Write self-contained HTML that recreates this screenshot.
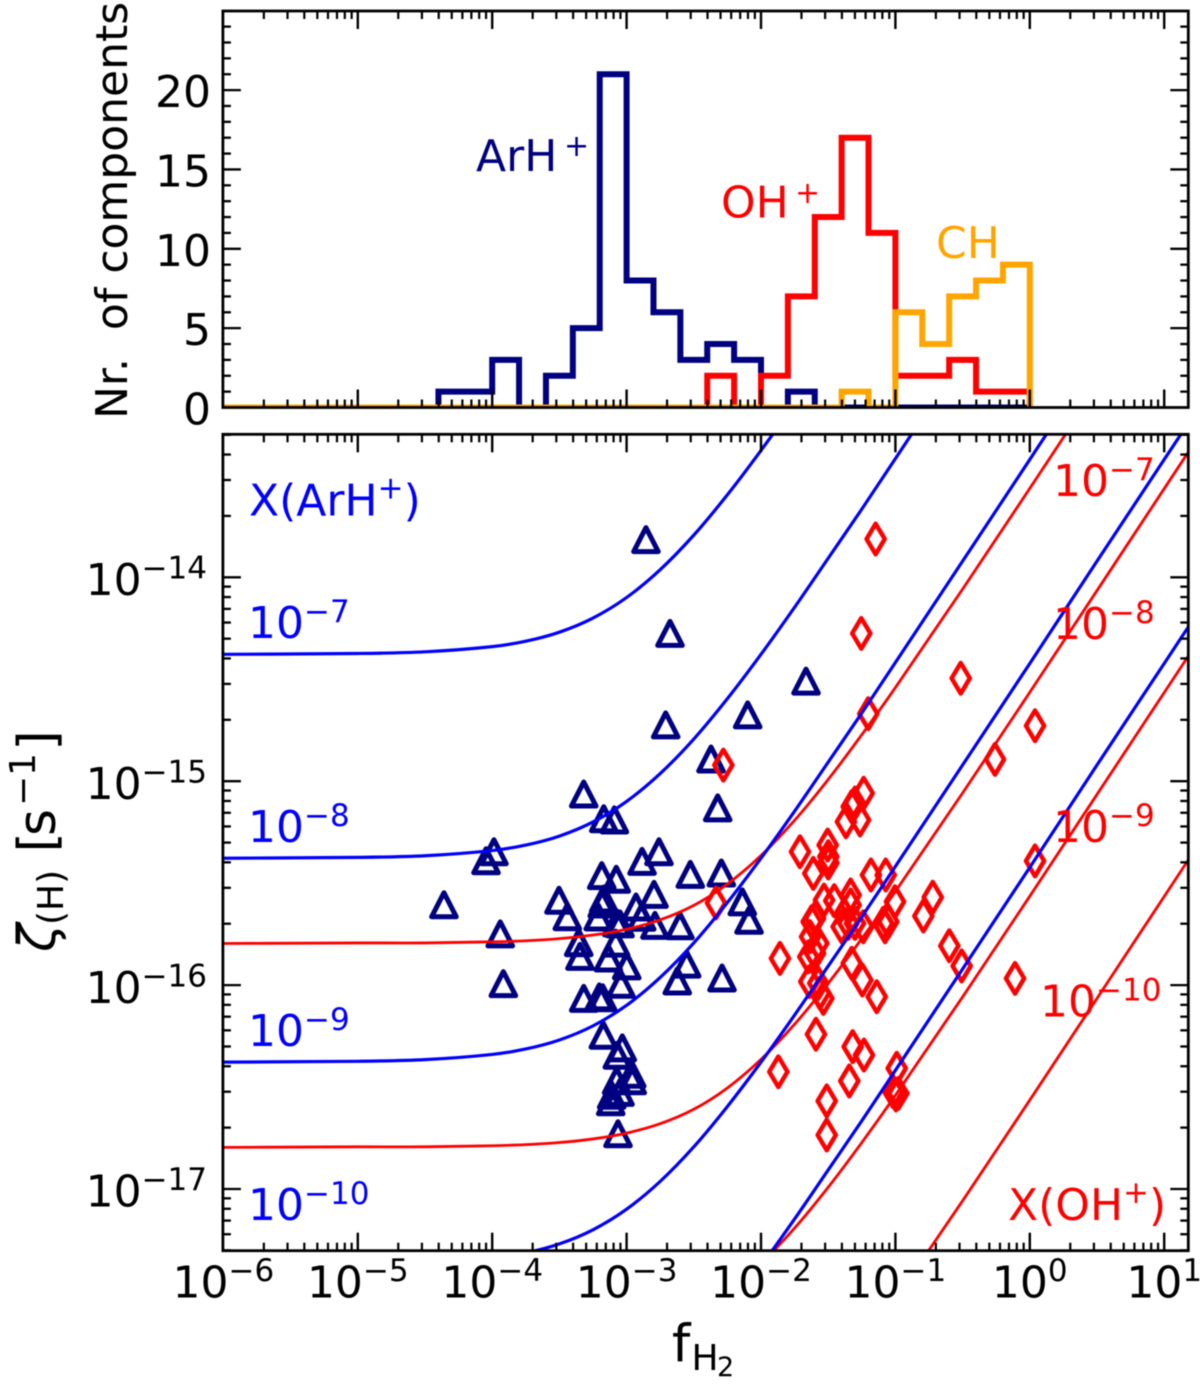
<!DOCTYPE html>
<html lang="en">
<head>
<meta charset="utf-8">
<title>Cosmic-ray ionization rate versus molecular fraction</title>
<style>
  html, body { margin: 0; padding: 0; background: #ffffff; width: 1200px; height: 1385px; overflow: hidden; }
  svg { display: block; font-family: "DejaVu Sans", "Liberation Sans", sans-serif; filter: blur(0.4px); }
</style>
</head>
<body>
<svg id="figure" xmlns="http://www.w3.org/2000/svg" width="1200" height="1385" viewBox="0 0 1200 1385">
  <defs>
    <clipPath id="clip-top"><rect x="222.9" y="11" width="965.4" height="396.5"/></clipPath>
    <clipPath id="clip-bottom"><rect x="222.9" y="434.3" width="965.4" height="816.4"/></clipPath>
  </defs>
  <rect x="0" y="0" width="1200" height="1385" fill="#ffffff"/>
  <g id="hist-layer" clip-path="url(#clip-top)"></g>
  <g id="arh-layer" clip-path="url(#clip-bottom)"></g>
  <g id="oh-layer" clip-path="url(#clip-bottom)"></g>
  <g id="red-curve-layer" clip-path="url(#clip-bottom)"></g>
  <g id="blue-curve-layer" clip-path="url(#clip-bottom)"></g>
  <g id="tick-layer"></g>
  <rect x="222.9" y="11" width="965.4" height="396.5" fill="none" stroke="#000" stroke-width="2.8"/>
  <rect x="222.9" y="434.3" width="965.4" height="816.4" fill="none" stroke="#000" stroke-width="2.8"/>
  <g id="tick-label-layer"></g>

  <g font-size="44">
    <text x="476" y="171" fill="#000080">ArH</text>
    <text x="564" y="156" font-size="30" fill="#000080">+</text>
    <text x="721" y="217.5" fill="#ff0000">OH</text>
    <text x="795" y="203" font-size="30" fill="#ff0000">+</text>
    <text x="936" y="258" fill="#ffa500">CH</text>
  </g>

  <g font-size="44" fill="#0000ff">
    <text x="249" y="515.7">X(ArH<tspan font-size="31" dy="-17">+</tspan><tspan dy="17">)</tspan></text>
    <text x="248" y="638">10<tspan font-size="31" dy="-16">−7</tspan></text>
    <text x="248" y="842">10<tspan font-size="31" dy="-16">−8</tspan></text>
    <text x="248" y="1046">10<tspan font-size="31" dy="-16">−9</tspan></text>
    <text x="248" y="1220">10<tspan font-size="31" dy="-16">−10</tspan></text>
  </g>
  <g font-size="44" fill="#ff0000">
    <text x="1053" y="496">10<tspan font-size="31" dy="-16">−7</tspan></text>
    <text x="1053" y="639">10<tspan font-size="31" dy="-16">−8</tspan></text>
    <text x="1053" y="842">10<tspan font-size="31" dy="-16">−9</tspan></text>
    <text x="1040" y="1016.7">10<tspan font-size="31" dy="-16">−10</tspan></text>
    <text x="1008" y="1220">X(OH<tspan font-size="31" dy="-17">+</tspan><tspan dy="17">)</tspan></text>
  </g>

  <text transform="translate(127,419) rotate(-90)" font-size="44" xml:space="preserve">Nr.  of components</text>

  <g>
    <text transform="translate(55,952) rotate(-90)" font-size="52" font-style="italic">ζ</text>
    <text transform="translate(63,925) rotate(-90)" font-size="36">(H)</text>
    <text transform="translate(55,852.5) rotate(-90)" font-size="52">[</text>
    <text transform="translate(55,836) rotate(-90)" font-size="52">s</text>
    <text transform="translate(35,806) rotate(-90)" font-size="36">−</text>
    <text transform="translate(35,776) rotate(-90)" font-size="36">1</text>
    <text transform="translate(55,750.6) rotate(-90)" font-size="52">]</text>
  </g>

  <g>
    <text x="672" y="1361.7" font-size="52">f</text>
    <text x="691.5" y="1370" font-size="36">H</text>
    <text x="717" y="1376" font-size="27">2</text>
  </g>
</svg>

<script>
// ---- Histogram data (counts per 0.2-dex bin, starting at log f = -6) ----
const histFirstEdge = -6;
const histBinWidth = 0.2;
const arhCounts = [0,0,0,0,0,0,0,0,1,1,3,0,2,5,21,8,6,3,4,3,0,1,0,0,0,0,0,0,0,0];
const ohCounts  = [0,0,0,0,0,0,0,0,0,0,0,0,0,0,0,0,0,0,2,0,2,7,12,17,11,2,2,3,1,1];
const chCounts  = [0,0,0,0,0,0,0,0,0,0,0,0,0,0,0,0,0,0,0,0,0,0,0,1,0,6,4,7,8,9];

// ---- Curve data: log10(fH2) grid and zeta values ----
const curveLogF = [-6,-5,-4.5,-4,-3.75,-3.5,-3.25,-3,-2.75,-2.5,-2.25,-2,-1.75,-1.5,-1.25,-1,-0.5,0,0.5,1,1.2];
const arhCurve7  = [4.19e-15,4.23e-15,4.31e-15,4.57e-15,4.86e-15,5.38e-15,6.31e-15,7.96e-15,1.09e-14,1.61e-14,2.54e-14,4.19e-14,7.13e-14,1.24e-13,2.16e-13,3.82e-13,1.20e-12,3.78e-12,1.20e-11,3.78e-11,5.98e-11];
const arhCurve8  = [4.19e-16,4.23e-16,4.31e-16,4.57e-16,4.86e-16,5.38e-16,6.31e-16,7.96e-16,1.09e-15,1.61e-15,2.54e-15,4.19e-15,7.13e-15,1.24e-14,2.16e-14,3.82e-14,1.20e-13,3.78e-13,1.20e-12,3.78e-12,5.98e-12];
const arhCurve9  = [4.19e-17,4.23e-17,4.31e-17,4.57e-17,4.86e-17,5.38e-17,6.31e-17,7.96e-17,1.09e-16,1.61e-16,2.54e-16,4.19e-16,7.13e-16,1.24e-15,2.16e-15,3.82e-15,1.20e-14,3.78e-14,1.20e-13,3.78e-13,5.98e-13];
const arhCurve10 = [4.19e-18,4.23e-18,4.31e-18,4.57e-18,4.86e-18,5.38e-18,6.31e-18,7.96e-18,1.09e-17,1.61e-17,2.54e-17,4.19e-17,7.13e-17,1.24e-16,2.16e-16,3.82e-16,1.20e-15,3.78e-15,1.20e-14,3.78e-14,5.98e-14];
const arhCurve11 = [4.19e-19,4.23e-19,4.31e-19,4.57e-19,4.86e-19,5.38e-19,6.31e-19,7.96e-19,1.09e-18,1.61e-18,2.54e-18,4.19e-18,7.13e-18,1.24e-17,2.16e-17,3.82e-17,1.20e-16,3.78e-16,1.20e-15,3.78e-15,5.98e-15];
const ohCurve7  = [1.60e-16,1.61e-16,1.61e-16,1.63e-16,1.65e-16,1.69e-16,1.76e-16,1.88e-16,2.09e-16,2.46e-16,3.13e-16,4.32e-16,6.43e-16,1.02e-15,1.69e-15,2.88e-15,8.75e-15,2.73e-14,8.61e-14,2.72e-13,4.31e-13];
const ohCurve8  = [1.60e-17,1.61e-17,1.61e-17,1.63e-17,1.65e-17,1.69e-17,1.76e-17,1.88e-17,2.09e-17,2.46e-17,3.13e-17,4.32e-17,6.43e-17,1.02e-16,1.69e-16,2.88e-16,8.75e-16,2.73e-15,8.61e-15,2.72e-14,4.31e-14];
const ohCurve9  = [1.60e-18,1.61e-18,1.61e-18,1.63e-18,1.65e-18,1.69e-18,1.76e-18,1.88e-18,2.09e-18,2.46e-18,3.13e-18,4.32e-18,6.43e-18,1.02e-17,1.69e-17,2.88e-17,8.75e-17,2.73e-16,8.61e-16,2.72e-15,4.31e-15];
const ohCurve10 = [1.60e-19,1.61e-19,1.61e-19,1.63e-19,1.65e-19,1.69e-19,1.76e-19,1.88e-19,2.09e-19,2.46e-19,3.13e-19,4.32e-19,6.43e-19,1.02e-18,1.69e-18,2.88e-18,8.75e-18,2.73e-17,8.61e-17,2.72e-16,4.31e-16];

// ---- Scatter data (log10 fH2, log10 zeta) ----
const arhLogF = [-2.856,-2.677,-2.709,-1.665,-2.099,-2.372,-2.322,-3.319,-3.170,-3.091,-3.987,-4.046,-2.759,-2.885,-3.185,-3.077,-2.526,-2.295,-4.359,-3.503,-3.441,-3.170,-3.181,-3.211,-3.074,-2.930,-2.796,-2.888,-2.789,-3.049,-2.603,-2.139,-2.089,-3.940,-3.356,-3.347,-3.081,-3.136,-2.999,-2.553,-2.623,-2.290,-3.917,-3.042,-3.319,-3.203,-3.178,-3.173,-3.032,-3.069,-2.962,-2.958,-3.074,-3.049,-3.111,-3.118,-3.064];
const arhLogZeta = [-13.815,-14.275,-14.724,-14.509,-14.675,-14.891,-15.131,-15.063,-15.184,-15.190,-15.346,-15.390,-15.346,-15.393,-15.463,-15.481,-15.457,-15.450,-15.606,-15.584,-15.665,-15.578,-15.602,-15.666,-15.695,-15.617,-15.555,-15.667,-15.707,-15.700,-15.709,-15.592,-15.682,-15.749,-15.792,-15.859,-15.794,-15.867,-15.906,-15.897,-15.980,-15.965,-15.993,-15.996,-16.065,-16.058,-16.062,-16.246,-16.308,-16.344,-16.437,-16.469,-16.469,-16.526,-16.540,-16.572,-16.729];
const ohLogF = [-1.147,-1.254,-0.514,-1.202,0.039,-0.259,-2.280,-1.236,-1.301,-1.325,-1.368,-1.263,-1.710,-1.504,-1.499,-1.499,-1.611,-1.182,-1.072,0.039,-0.722,-0.792,-1.003,-1.531,-1.455,-1.333,-1.333,-1.598,-1.623,-1.400,-1.350,-1.301,-1.239,-1.090,-1.053,-1.077,-1.635,-1.574,-1.648,-1.598,-1.859,-1.325,-1.246,-1.139,-0.599,-0.507,-0.110,-1.641,-1.574,-1.536,-1.561,-1.591,-1.318,-1.234,-1.871,-1.343,-0.990,-1.511,-1.511,-1.016,-0.978,-0.996,-2.335];
const ohLogZeta = [-13.812,-14.275,-14.495,-14.669,-14.728,-14.893,-14.921,-15.059,-15.107,-15.125,-15.199,-15.190,-15.346,-15.313,-15.370,-15.401,-15.452,-15.460,-15.460,-15.391,-15.569,-15.661,-15.591,-15.583,-15.586,-15.558,-15.607,-15.672,-15.689,-15.714,-15.697,-15.697,-15.714,-15.697,-15.689,-15.714,-15.763,-15.795,-15.861,-15.844,-15.869,-15.893,-15.975,-16.057,-15.807,-15.906,-15.967,-15.983,-15.991,-16.065,-16.039,-16.241,-16.302,-16.343,-16.425,-16.470,-16.408,-16.568,-16.735,-16.523,-16.531,-16.539,-15.597];

// ---- Tick labels ----
const xTickExponents = [-6,-5,-4,-3,-2,-1,0,1];
const countTicks = [0,5,10,15,20];
const zetaTickExponents = [-14,-15,-16,-17];

// ---- Axis functions ----
const NS = 'http://www.w3.org/2000/svg';
const X_MIN_LOG = -6, X_MAX_LOG = 1.18;
const Y_MIN_LOG = -17.303, Y_MAX_LOG = -13.299;
const xScale = function (logF) { return 223.4 + (logF + 6) * 134.4; };
const yZeta = function (logZ) { return 577.3 - (logZ + 14) * 203.9; };
const yCount = function (c) { return 407.5 - c * 15.87; };

function make(tag, parent) {
  const node = document.createElementNS(NS, tag);
  parent.appendChild(node);
  return node;
}

// ---- Histograms ----
function stepPath(counts) {
  let d = 'M' + xScale(histFirstEdge) + ' ' + yCount(0);
  counts.forEach(function (c, i) {
    const left = xScale(histFirstEdge + i * histBinWidth);
    const right = xScale(histFirstEdge + (i + 1) * histBinWidth);
    d += ' L' + left.toFixed(2) + ' ' + yCount(c).toFixed(2);
    d += ' L' + right.toFixed(2) + ' ' + yCount(c).toFixed(2);
  });
  d += ' L' + xScale(histFirstEdge + counts.length * histBinWidth).toFixed(2) + ' ' + yCount(0);
  return d;
}
const histLayer = document.getElementById('hist-layer');

const arhHist = make('path', histLayer);


arhHist.setAttribute('d', stepPath(arhCounts));
arhHist.setAttribute('fill', 'none');
arhHist.setAttribute('stroke', '#000080');
arhHist.setAttribute('stroke-width', '6');

const ohHist = make('path', histLayer);


ohHist.setAttribute('d', stepPath(ohCounts));
ohHist.setAttribute('fill', 'none');
ohHist.setAttribute('stroke', '#ff0000');
ohHist.setAttribute('stroke-width', '6');

const chHist = make('path', histLayer);


chHist.setAttribute('d', stepPath(chCounts));
chHist.setAttribute('fill', 'none');
chHist.setAttribute('stroke', '#ffa500');
chHist.setAttribute('stroke-width', '6');

// ---- Curves: only samples that land on the page are drawn; the panel clip trims the rest ----
function curvePath(values) {
  const pts = [];
  values.forEach(function (v, i) {
    const py = yZeta(Math.log10(v));
    if (py >= 0 && py <= 1385) {
      pts.push([xScale(curveLogF[i]), py]);
    }
  });
  let d = 'M' + pts[0][0].toFixed(2) + ' ' + pts[0][1].toFixed(2);
  for (let i = 0; i < pts.length - 1; i++) {
    const p0 = pts[Math.max(i - 1, 0)];
    const p1 = pts[i];
    const p2 = pts[i + 1];
    const p3 = pts[Math.min(i + 2, pts.length - 1)];
    const span = (p2[0] - p1[0]);
    const m1 = (p2[1] - p0[1]) / (p2[0] - p0[0]);
    const m2 = (p3[1] - p1[1]) / (p3[0] - p1[0]);
    const c1x = p1[0] + span / 3;
    const c1y = p1[1] + m1 * span / 3;
    const c2x = p2[0] - span / 3;
    const c2y = p2[1] - m2 * span / 3;
    d += ' C' + c1x.toFixed(2) + ' ' + c1y.toFixed(2) + ' ' + c2x.toFixed(2) + ' ' + c2y.toFixed(2) + ' ' + p2[0].toFixed(2) + ' ' + p2[1].toFixed(2);
  }
  return d;
}
const blueLayer = document.getElementById('blue-curve-layer');
[arhCurve7, arhCurve8, arhCurve9, arhCurve10, arhCurve11].forEach(function (series) {
  const line = make('path', blueLayer);
  
  
  line.setAttribute('d', curvePath(series));
  line.setAttribute('fill', 'none');
  line.setAttribute('stroke', '#0000ff');
  line.setAttribute('stroke-width', '3.2');
});
const redLayer = document.getElementById('red-curve-layer');
[ohCurve7, ohCurve8, ohCurve9, ohCurve10].forEach(function (series) {
  const line = make('path', redLayer);
  
  
  line.setAttribute('d', curvePath(series));
  line.setAttribute('fill', 'none');
  line.setAttribute('stroke', '#ff0000');
  line.setAttribute('stroke-width', '2.8');
});

// ---- Scatter markers ----
const arhLayer = document.getElementById('arh-layer');
arhLogF.forEach(function (lf, i) {
  const cx = xScale(lf);
  const cy = yZeta(arhLogZeta[i]);
  const tri = make('path', arhLayer);
  
  
  tri.setAttribute('d', 'M' + cx.toFixed(2) + ' ' + (cy - 12).toFixed(2) + ' L' + (cx + 12.3).toFixed(2) + ' ' + (cy + 12).toFixed(2) + ' L' + (cx - 12.3).toFixed(2) + ' ' + (cy + 12).toFixed(2) + ' Z');
  tri.setAttribute('fill', 'none');
  tri.setAttribute('stroke', '#000080');
  tri.setAttribute('stroke-width', '5');
  tri.setAttribute('stroke-linejoin', 'round');
});
const ohLayer = document.getElementById('oh-layer');
ohLogF.forEach(function (lf, i) {
  const cx = xScale(lf);
  const cy = yZeta(ohLogZeta[i]);
  const dia = make('path', ohLayer);
  
  
  dia.setAttribute('d', 'M' + cx.toFixed(2) + ' ' + (cy - 15.25).toFixed(2) + ' L' + (cx + 9.1).toFixed(2) + ' ' + cy.toFixed(2) + ' L' + cx.toFixed(2) + ' ' + (cy + 15.25).toFixed(2) + ' L' + (cx - 9.1).toFixed(2) + ' ' + cy.toFixed(2) + ' Z');
  dia.setAttribute('fill', 'none');
  dia.setAttribute('stroke', '#ff0000');
  dia.setAttribute('stroke-width', '4.5');
  dia.setAttribute('stroke-linejoin', 'round');
});

// ---- Ticks ----
const tickLayer = document.getElementById('tick-layer');
const MAJOR_LEN = 18, MINOR_LEN = 8;
const panels = [
  { top: 11, bottom: 407.5 },
  { top: 434.3, bottom: 1250.7 }
];
function tickLine(x1, y1, x2, y2, width) {
  const t = make('line', tickLayer);
  
  
  t.setAttribute('x1', x1);
  t.setAttribute('y1', y1);
  t.setAttribute('x2', x2);
  t.setAttribute('y2', y2);
  t.setAttribute('stroke', '#000');
  t.setAttribute('stroke-width', width);
}
const FRAME_LEFT = 222.9, FRAME_RIGHT = 1188.3;
panels.forEach(function (p) {
  for (let dec = -6; dec <= 1; dec++) {
    for (let m = 1; m <= 9; m++) {
      const lg = dec + Math.log10(m);
      if (lg > X_MAX_LOG) continue;
      if (lg <= X_MIN_LOG) continue;
      const px = xScale(lg);
      const len = m === 1 ? MAJOR_LEN : MINOR_LEN;
      const w = m === 1 ? 2.4 : 2.2;
      tickLine(px, p.bottom, px, p.bottom - len, w);
      tickLine(px, p.top, px, p.top + len, w);
    }
  }
});
for (let c = 1; c < 25; c++) {
  const py = yCount(c);
  const len = c % 5 === 0 ? MAJOR_LEN : MINOR_LEN;
  tickLine(FRAME_LEFT, py, FRAME_LEFT + len, py, 2.3);
  tickLine(FRAME_RIGHT, py, FRAME_RIGHT - len, py, 2.3);
}
for (let dec = -18; dec <= -14; dec++) {
  for (let m = 1; m <= 9; m++) {
    const lg = dec + Math.log10(m);
    if (lg < Y_MIN_LOG || lg > Y_MAX_LOG) continue;
    const py = yZeta(lg);
    const len = m === 1 ? MAJOR_LEN : MINOR_LEN;
    tickLine(FRAME_LEFT, py, FRAME_LEFT + len, py, 2.3);
    tickLine(FRAME_RIGHT, py, FRAME_RIGHT - len, py, 2.3);
  }
}

// ---- Tick labels ----
const labelLayer = document.getElementById('tick-label-layer');
function powerLabel(x, y, exponent, anchor) {
  const t = make('text', labelLayer);
  t.setAttribute('x', x);
  t.setAttribute('y', y);
  t.setAttribute('font-size', '44');
  t.setAttribute('text-anchor', anchor);
  t.textContent = '10';
  const s = make('tspan', t);
  s.setAttribute('font-size', '31');
  s.setAttribute('dy', '-16.5');
  s.textContent = String(exponent).replace('-', '\u2212');
  return t;
}
xTickExponents.forEach(function (e) {
  const t = powerLabel(xScale(e), 1297.7, e, 'middle');
  
  
});
zetaTickExponents.forEach(function (e) {
  const t = powerLabel(207, yZeta(e) + 17.7, e, 'end');
  
  
});
countTicks.forEach(function (c) {
  const t = make('text', labelLayer);
  
  
  t.setAttribute('x', 211);
  t.setAttribute('y', yCount(c) + 17);
  t.setAttribute('font-size', '44');
  t.setAttribute('text-anchor', 'end');
  t.textContent = String(c);
});
</script>
</body>
</html>
